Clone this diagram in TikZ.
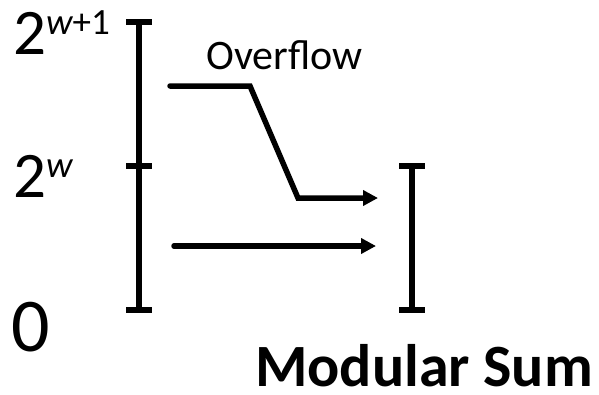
\documentclass[tikz,border=0pt]{standalone}
\usepackage{fontspec}
\setmainfont{Carlito}
\usetikzlibrary{arrows.meta}
\tikzset{
  bar_ln/.style={line width=5.5pt},
  arr/.style={line width=5.5pt,line cap=round,line join=miter,-{Triangle[length=15pt,width=15pt]}},
  lbl/.style={inner sep=0pt,anchor=base west},
}
\newcommand{\rangetick}[1]{%
  \draw[bar_ln] ([xshift=-13pt]#1) -- ([xshift=13pt]#1);}

\begin{document}
\begin{tikzpicture}[x=1pt,y=-1pt]
\useasboundingbox (0,0) rectangle (599,394);
\def\xL{139}\def\xR{412}
% full range
\coordinate (LT) at (\xL,22);
\coordinate (LM) at (\xL,166);
\coordinate (LB) at (\xL,310);
\draw[bar_ln](LT)--(LB);
\rangetick{LT}\rangetick{LM}\rangetick{LB}
% modular range
\coordinate (RT) at (\xR,166);
\coordinate (RB) at (\xR,310);
\draw[bar_ln](RT)--(RB);
\rangetick{RT}\rangetick{RB}
% labels
\node[lbl] (top) at (13,54){\fontsize{65}{65}\selectfont 2\raisebox{20pt}{\fontsize{37}{37}\selectfont\itshape w\upshape+1}};
\node[lbl] (mid) at (13,197){\fontsize{65}{65}\selectfont 2\raisebox{20pt}{\fontsize{37}{37}\selectfont\itshape w}};
\node[lbl] (zero) at (11,351){\fontsize{76}{76}\selectfont 0};
\node[lbl] (ovf) at (206,69){\fontsize{42}{42}\selectfont Overflow};
\node[inner sep=0pt,anchor=base east] (mod) at (593,386){\fontsize{60}{60}\selectfont\bfseries Modular Sum};
% arrows
\coordinate (oA) at (170,86);
\coordinate (oB) at (250,86);
\coordinate (oC) at (298,198);
\coordinate (oD) at (378,198);
\coordinate (nA) at (174,246);
\coordinate (nB) at (376,246);
\draw[arr](oA)--(oB)--(oC)--(oD);
\draw[arr](nA)--(nB);
\end{tikzpicture}
\end{document}
